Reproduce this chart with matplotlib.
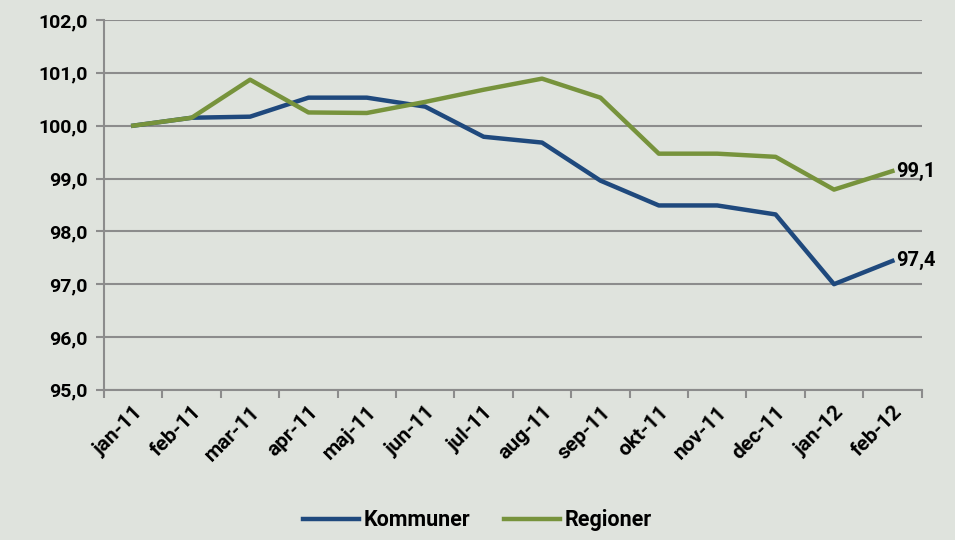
import matplotlib.pyplot as plt
from matplotlib.ticker import FixedLocator, FuncFormatter

# Data (index, jan-11 = 100)
months = ["jan-11", "feb-11", "mar-11", "apr-11", "maj-11", "jun-11", "jul-11",
          "aug-11", "sep-11", "okt-11", "nov-11", "dec-11", "jan-12", "feb-12"]
kommuner = [100.0, 100.15, 100.17, 100.53, 100.53, 100.36, 99.79,
            99.68, 98.96, 98.49, 98.49, 98.32, 97.0, 97.44]
regioner = [100.0, 100.15, 100.87, 100.25, 100.24, 100.45, 100.68,
            100.89, 100.53, 99.47, 99.47, 99.41, 98.79, 99.14]

bg = "#dfe3dd"
blue = "#1f497d"
green = "#77933c"
grid = "#8c8c8c"

plt.rcParams['font.family'] = ['Roboto', 'DejaVu Sans']
plt.rcParams['font.weight'] = 'bold'

fig = plt.figure(figsize=(9.55, 5.4), dpi=100, facecolor=bg)
ax = fig.add_axes([0.109, 0.278, 0.856, 0.685], facecolor=bg)

x = list(range(len(months)))
ax.plot(x, kommuner, color=blue, lw=3.2, label="Kommuner", solid_joinstyle='round')
ax.plot(x, regioner, color=green, lw=3.2, label="Regioner", solid_joinstyle='round')

# end labels
for series in [kommuner, regioner]:
    ax.annotate(f"{series[-1]:.1f}".replace('.', ','), (x[-1], series[-1]),
                xytext=(3, 0), textcoords='offset points', ha='left', va='center',
                fontsize=14.5, fontweight='bold', color='black')

ax.set_xlim(-0.5, len(months) - 0.5)
ax.set_ylim(95, 102)
ax.set_yticks(range(95, 103))
ax.yaxis.set_major_formatter(FuncFormatter(lambda v, p: f"{v:.1f}".replace('.', ',')))
ax.grid(axis='y', color=grid, lw=1.5)
ax.set_axisbelow(True)

# category labels at centers, tick marks at boundaries
ax.set_xticks(x)
ax.set_xticklabels(months, rotation=45, ha='right', rotation_mode='anchor', fontsize=15)
ax.tick_params(axis='x', which='major', length=0, pad=9)
ax.xaxis.set_minor_locator(FixedLocator([i - 0.5 for i in range(len(months) + 1)]))
ax.tick_params(axis='x', which='minor', length=6, width=1.5, color=grid)
ax.tick_params(axis='y', length=6, width=1.5, color=grid, labelsize=14, pad=6)

for s in ['top', 'right']:
    ax.spines[s].set_visible(False)
for s in ['left', 'bottom']:
    ax.spines[s].set_color(grid)
    ax.spines[s].set_linewidth(1.5)

fig.legend(loc='lower center', bbox_to_anchor=(0.5, -0.02), ncol=2, frameon=False,
           fontsize=15.5, handlelength=2.6, handletextpad=0.2, columnspacing=1.6)

fig.savefig("out.png", dpi=100, facecolor=bg)
